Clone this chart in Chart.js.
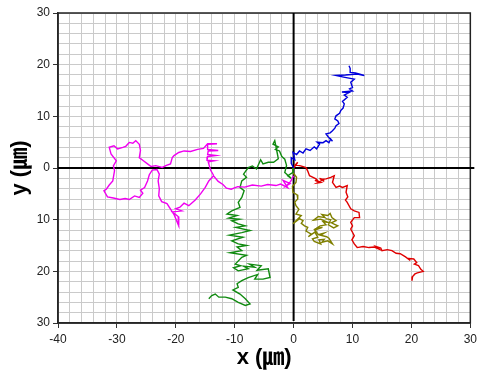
<!DOCTYPE html>
<html>
<head>
<meta charset="utf-8">
<title>Trajectories</title>
<script src="https://cdn.jsdelivr.net/npm/chart.js"></script>
<style>
  html, body { margin: 0; padding: 0; background: #fff; }
  canvas { display: block; }
</style>
</head>
<body>
<canvas id="traj" width="481" height="379"></canvas>
<script>
// axis ranges and labels
const xMin = -40, xMax = 30;
const yMin = -30, yMax = 30;
const xTitle = 'x (㎛)';
const yTitle = 'y (㎛)';

// trajectory data (um)
const magentaX = [0, -0.5, -1.2, -0.6, -1.8, -1.0, -2.2, -3.0, -4.4, -5.5,
  -7.0, -8.3, -9.5, -10.6, -11.4, -12.0, -12.8, -13.6, -14.4, -15.0,
  -15.8, -16.7, -17.8, -18.6, -19.3, -20.0, -19.0, -20.6, -19.6, -19.5,
  -20.3, -21.5, -22.4, -22.9, -22.8, -23.0, -22.8, -23.2, -24.0, -24.5,
  -24.8, -25.3, -26.0, -25.6, -26.2, -27.0, -27.9, -28.6, -29.5, -30.6,
  -31.6, -32.2, -31.8, -31.3, -30.7, -30.4, -30.6, -30.1, -31.0, -31.3,
  -30.5, -29.9, -29.0, -28.5, -27.9, -27.3, -26.8, -26.2, -26.0, -26.2,
  -25.5, -24.8, -24.2, -23.4, -22.3, -21.6, -20.9, -20.6, -20.3, -19.5,
  -18.6, -17.5, -16.3, -15.3, -14.6, -13.0, -14.6, -14.6, -12.8, -14.5,
  -14.6, -13.2, -14.6, -14.7, -13.5, -14.5, -14.4, -14.1, -13.6];
const magentaY = [-1.5, -2.6, -3.4, -3.0, -2.4, -3.8, -3.1, -3.4, -3.2, -3.5,
  -3.3, -3.7, -3.6, -4.1, -3.9, -3.2, -2.6, -1.5, -2.5, -3.75,
  -5.0, -6.2, -7.3, -6.8, -7.6, -7.9, -8.3, -8.5, -9.4, -11.2,
  -9.0, -6.9, -6.5, -5.4, -4.0, -2.5, -1.2, -0.3, -0.4, -1.3,
  -2.5, -3.8, -4.3, -4.9, -5.7, -5.4, -6.1, -5.9, -6.1, -5.8,
  -5.6, -4.4, -4.1, -3.3, -2.5, -0.5, 0.4, 1.4, 2.7, 4.0,
  4.3, 3.7, 4.0, 4.2, 4.95, 4.8, 5.3, 4.6, 3.4, 2.0,
  1.4, 0.8, 0.3, 0.45, 0.1, 0.5, 0.8, 2.0, 2.4, 3.0,
  3.3, 3.2, 3.6, 3.8, 4.7, 4.7, 4.6, 3.6, 3.4, 3.3,
  2.6, 2.4, 2.2, 1.5, 1.4, 1.2, 0.8, -0.4, -1.4];

const greenX = [0, -0.1, -1.0, -0.4, -1.5, -1.2, -1.5, -2.0, -2.4, -3.1,
  -2.6, -3.5, -3.2, -2.8, -2.6, -3.4, -4.3, -5.2, -5.6, -6.3,
  -7.0, -7.7, -8.5, -8.0, -8.8, -9.1, -8.4, -8.8, -9.4, -9.1,
  -10.5, -11.3, -9.6, -11.0, -9.2, -10.5, -9.4, -8.2, -9.8, -7.4,
  -8.8, -10.9, -8.6, -10.5, -9.4, -8.0, -9.6, -8.8, -10.8, -8.0,
  -8.8, -9.9, -9.0, -10.2, -9.4, -7.7, -8.5, -6.6, -7.5, -5.5,
  -6.2, -4.3, -4.0, -5.2, -6.6, -6.1, -7.7, -8.8, -9.6, -9.4,
  -10.3, -9.1, -8.2, -7.4, -8.2, -9.4, -10.5, -11.6, -12.7, -13.3,
  -13.9, -14.4];
const greenY = [0, -0.85, -1.5, -2.0, -0.85, 0.5, 1.7, 2.2, 3.3, 3.6,
  4.1, 4.6, 5.3, 3.0, 1.8, 1.1, 1.1, 0.8, 1.6, -0.2,
  0.4, 0.1, -1.2, -1.8, -2.5, -3.75, -4.4, -5.7, -6.65, -7.6,
  -8.3, -8.9, -9.2, -9.7, -9.9, -10.2, -10.8, -11.2, -11.5, -12.1,
  -12.5, -13.0, -13.4, -14.1, -14.7, -15.0, -15.3, -16.0, -16.4, -16.9,
  -17.3, -18.6, -18.9, -19.3, -19.9, -19.5, -19.0, -19.2, -18.6, -18.9,
  -19.8, -19.5, -21.2, -21.5, -21.5, -20.6, -21.2, -21.8, -22.4, -23.1,
  -23.6, -24.4, -25.3, -26.3, -26.6, -26.0, -25.3, -25.0, -25.0, -24.4,
  -24.7, -25.3];

const blueX = [0, -0.4, -0.4, 0.2, -0.1, 0.5, 1.0, 1.6, 2.1, 2.8,
  3.5, 3.9, 4.4, 4.0, 5.0, 5.5, 6.0, 6.3, 6.6, 5.9,
  5.5, 6.2, 6.6, 7.0, 7.2, 7.7, 7.5, 7.0, 7.2, 7.8,
  8.0, 8.4, 8.6, 8.3, 9.1, 8.6, 9.4, 8.2, 10.0, 9.5,
  10.0, 9.7, 10.3, 9.4, 8.5, 7.2, 8.8, 10.8, 12.0, 10.5,
  9.7, 9.6, 9.4];
const blueY = [0, 0.9, 2.0, 1.6, 3.0, 2.6, 3.3, 2.9, 3.7, 3.4,
  4.1, 3.7, 4.6, 5.0, 4.9, 5.3, 4.9, 5.6, 5.2, 6.0,
  6.6, 6.8, 7.2, 7.7, 8.2, 8.6, 9.1, 9.5, 10.1, 10.6,
  11.1, 11.6, 12.4, 12.9, 13.7, 14.1, 14.6, 14.7, 14.9, 15.3,
  15.6, 16.6, 17.2, 17.4, 17.6, 17.9, 18.0, 18.2, 17.9, 18.4,
  18.5, 19.3, 19.8];

const redX = [0, 0.7, 0.3, 1.2, 2.1, 2.4, 2.7, 3.3, 3.8, 4.2,
  3.6, 4.6, 4.0, 5.0, 4.4, 5.2, 4.7, 5.5, 6.3, 6.9,
  6.6, 7.2, 7.8, 8.3, 9.1, 8.9, 9.2, 8.8, 9.1, 9.7,
  10.3, 11.1, 11.2, 10.3, 9.7, 10.0, 9.7, 10.3, 9.9, 10.3,
  10.8, 11.8, 12.8, 13.7, 14.5, 14.0, 14.8, 15.0, 15.9, 16.7,
  17.4, 18.1, 19.0, 19.8, 19.4, 20.4, 20.9, 20.5, 21.2, 21.6,
  22.0, 21.0, 20.6, 20.2, 20.1];
const redY = [0, 1.1, 0.6, 0.4, 0.1, -0.6, -1.5, -1.8, -2.1, -2.6,
  -2.4, -2.8, -2.9, -2.3, -2.0, -2.6, -2.2, -2.1, -1.8, -1.5,
  -2.8, -3.75, -3.5, -3.75, -3.4, -4.7, -5.6, -6.2, -6.65, -7.9,
  -8.3, -8.6, -9.6, -9.6, -10.5, -11.2, -11.8, -13.1, -13.9, -14.7,
  -15.4, -15.2, -15.4, -15.3, -15.7, -15.2, -15.5, -16.0, -15.8, -16.0,
  -16.5, -16.6, -17.2, -17.9, -17.5, -17.6, -18.3, -18.6, -18.9, -19.6,
  -20.0, -20.3, -20.5, -21.0, -21.8];

const oliveX = [0, -0.1, 0.5, 0.4, -0.2, -0.1, 0.6, 0.7, 0.2, 0.4,
  0.9, 0.4, 1.3, -0.1, 1.0, 1.6, 1.3, 1.85, 2.4, 2.1,
  3.0, 2.5, 3.6, 4.1, 3.2, 3.5, 4.6, 4.3, 5.2, 4.8,
  5.8, 6.6, 6.0, 5.6, 4.6, 5.2, 4.2, 3.6, 4.9, 3.8,
  4.5, 5.5, 5.0, 5.8, 4.6, 3.4, 4.2, 5.3, 4.8, 5.8,
  6.2, 6.5, 7.2, 6.4, 7.5, 6.8, 5.9, 6.3, 5.4];
const oliveY = [0, -0.9, -1.8, -2.8, -3.6, -4.7, -5.2, -6.0, -6.6, -7.3,
  -8.0, -8.9, -9.2, -10.8, -9.8, -10.2, -10.7, -11.2, -11.5, -12.2,
  -12.8, -13.3, -12.4, -13.4, -13.7, -14.2, -14.7, -13.9, -13.8, -14.4,
  -14.1, -14.7, -13.6, -13.3, -13.0, -12.6, -12.9, -12.0, -11.5, -11.7,
  -11.2, -11.0, -10.4, -10.5, -9.9, -10.1, -9.4, -9.6, -9.0, -9.2,
  -8.8, -9.6, -10.2, -10.6, -11.2, -11.6, -11.0, -10.0, -9.8];

function pts(xs, ys) {
  return xs.map((x, i) => ({ x: x, y: ys[i] }));
}

function series(xs, ys, color) {
  return {
    data: pts(xs, ys),
    showLine: true,
    borderColor: color,
    backgroundColor: color,
    borderWidth: 1.4,
    pointRadius: 0,
    tension: 0
  };
}

const tickFont = { family: "'Liberation Sans', Arial, sans-serif", size: 12 };
const titleFont = { family: "'Liberation Sans', 'Noto Sans CJK KR', sans-serif", size: 22, weight: 'bold' };

// black zero axes and frame, drawn over the grey grid but under the data
const axisLines = {
  id: 'axisLines',
  beforeDatasetsDraw(chart) {
    const { ctx, chartArea: a, scales } = chart;
    const x0 = scales.x.getPixelForValue(0);
    const y0 = scales.y.getPixelForValue(0);
    ctx.save();
    ctx.strokeStyle = '#222';
    ctx.lineWidth = 1.5;
    ctx.strokeRect(a.left, a.top, a.right - a.left, a.bottom - a.top);
    ctx.strokeStyle = '#000';
    ctx.lineWidth = 2;
    ctx.beginPath();
    ctx.moveTo(x0, a.top);
    ctx.lineTo(x0, a.bottom - 2);
    ctx.moveTo(a.left, y0);
    ctx.lineTo(a.right + 4, y0);
    ctx.stroke();
    ctx.restore();
  }
};

new Chart(document.getElementById('traj'), {
  type: 'scatter',
  data: {
    datasets: [
      series(magentaX, magentaY, '#f000f0'),
      series(greenX, greenY, '#108a10'),
      series(blueX, blueY, '#0000dd'),
      series(redX, redY, '#e00000'),
      series(oliveX, oliveY, '#808000')
    ]
  },
  options: {
    responsive: false,
    animation: false,
    layout: { padding: { top: 13, right: 7, left: 0, bottom: 0 } },
    plugins: { legend: { display: false }, tooltip: { enabled: false } },
    scales: {
      x: {
        type: 'linear',
        min: xMin,
        max: xMax,
        afterFit: s => { s.height = 56; },
        border: { color: '#333', width: 1.5 },
        grid: {
          color: '#cacaca',
          lineWidth: 1,
          tickLength: 5,
          tickColor: ctx => (ctx.tick.value % 10 === 0 ? '#333' : 'rgba(0,0,0,0)')
        },
        ticks: {
          stepSize: 2,
          autoSkip: false,
          maxRotation: 0,
          padding: 4,
          color: '#222',
          font: tickFont,
          callback: v => (v % 10 === 0 ? String(v) : '')
        },
        title: {
          display: true,
          text: xTitle,
          color: '#000',
          font: titleFont,
          padding: { top: 0, bottom: 8 }
        }
      },
      y: {
        type: 'linear',
        min: yMin,
        max: yMax,
        afterFit: s => { s.width = 58; },
        border: { color: '#333', width: 1.5 },
        grid: {
          color: '#cacaca',
          lineWidth: 1,
          tickLength: 5,
          tickColor: ctx => (ctx.tick.value % 10 === 0 ? '#333' : 'rgba(0,0,0,0)')
        },
        ticks: {
          stepSize: 2,
          autoSkip: false,
          padding: 3,
          color: '#222',
          font: tickFont,
          callback: v => (v % 10 === 0 ? String(Math.abs(v)) : '')
        },
        title: {
          display: true,
          text: yTitle,
          color: '#000',
          font: titleFont,
          padding: { top: 7, bottom: 0 }
        }
      }
    }
  },
  plugins: [axisLines]
});
</script>
</body>
</html>
